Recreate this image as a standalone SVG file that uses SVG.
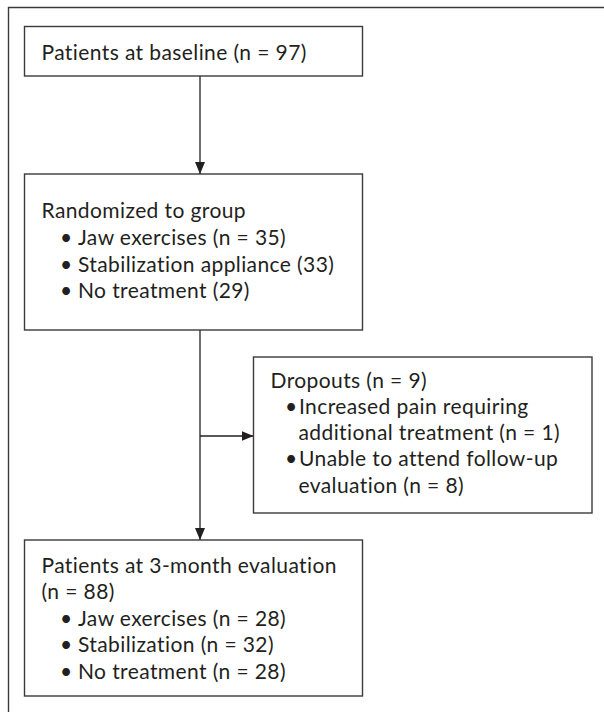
<svg xmlns="http://www.w3.org/2000/svg" width="604" height="712" viewBox="0 0 604 712">
<style>
.box{fill:#fff;stroke:#3a3a3a;stroke-width:1.4}
.frame{fill:none;stroke:#3a3a3a;stroke-width:1.4}
.t{font-family:Lato,"Noto Sans","Liberation Sans",sans-serif;font-size:21px;letter-spacing:0.4px;fill:#231f20}
.c{stroke:#231f20;stroke-width:1.3;fill:none}
</style>
<defs>
<marker id="ah" viewBox="0 0 12 10" refX="12" refY="5" markerWidth="12" markerHeight="10" markerUnits="userSpaceOnUse" orient="auto">
<path d="M0,0 L12,5 L0,10 Z" fill="#231f20"/>
</marker>
</defs>
<path class="frame" d="M8.5,712 V7.5 H604"/>
<g id="connectors">
<line class="c" x1="200" y1="76" x2="200" y2="174" marker-end="url(#ah)"/>
<line class="c" x1="200" y1="330" x2="200" y2="540" marker-end="url(#ah)"/>
<line class="c" x1="200" y1="436" x2="253.5" y2="436" marker-end="url(#ah)"/>
</g>
<g id="baseline">
<rect class="box" x="24.5" y="26.5" width="338" height="49.5"/>
<text class="t" x="41.5" y="60">Patients at baseline (n = 97)</text>
</g>
<g id="randomized">
<rect class="box" x="24.5" y="174" width="338" height="156"/>
<text class="t" x="41.5" y="218">Randomized to group</text>
<text class="t" x="60" y="245">•</text><text class="t" x="78" y="245">Jaw exercises (n = 35)</text>
<text class="t" x="60" y="271.5">•</text><text class="t" x="78" y="271.5">Stabilization appliance (33)</text>
<text class="t" x="60" y="298">•</text><text class="t" x="78" y="298">No treatment (29)</text>
</g>
<g id="dropouts">
<rect class="box" x="253.5" y="357" width="338.5" height="156"/>
<text class="t" x="270.5" y="388">Dropouts (n = 9)</text>
<text class="t" x="285" y="414">•</text><text class="t" x="299" y="414">Increased pain requiring</text>
<text class="t" x="298.5" y="440">additional treatment (n = 1)</text>
<text class="t" x="285" y="466">•</text><text class="t" x="299" y="466">Unable to attend follow-up</text>
<text class="t" x="298.5" y="492.5">evaluation (n = 8)</text>
</g>
<g id="followup">
<rect class="box" x="24.5" y="540" width="338" height="156"/>
<text class="t" x="41.5" y="572.5">Patients at 3-month evaluation</text>
<text class="t" x="41.5" y="599">(n = 88)</text>
<text class="t" x="60" y="625.5">•</text><text class="t" x="78" y="625.5">Jaw exercises (n = 28)</text>
<text class="t" x="60" y="652">•</text><text class="t" x="78" y="652">Stabilization (n = 32)</text>
<text class="t" x="60" y="678.5">•</text><text class="t" x="78" y="678.5">No treatment (n = 28)</text>
</g>
</svg>
